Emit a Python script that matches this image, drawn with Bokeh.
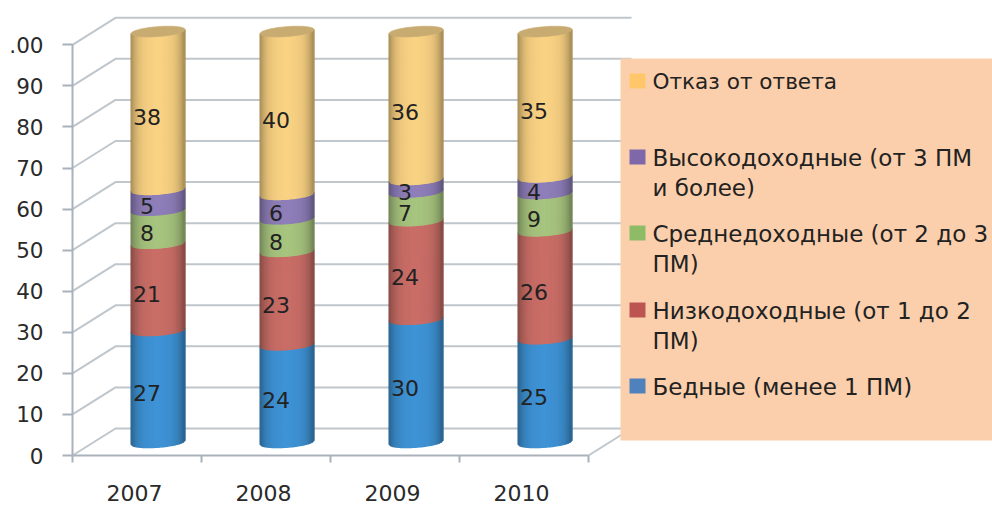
import numpy as np
from bokeh.plotting import figure
from bokeh.models import Range1d, FixedTicker
from bokeh.core.properties import value
from bokeh.embed import file_html
from bokeh.resources import INLINE

# ---- chart values ----
years = ["2007", "2008", "2009", "2010"]
bednye = [27, 24, 30, 25]
nizko = [21, 23, 24, 26]
sredne = [8, 8, 7, 9]
vysoko = [5, 6, 3, 4]
otkaz = [38, 40, 36, 35]
y_ticks = [0, 10, 20, 30, 40, 50, 60, 70, 80, 90, 100]
# the topmost tick label is cut off by the picture's left edge in the reference
y_tick_labels = ["0", "10", "20", "30", "40", "50", "60", "70", "80", "90", ".00"]
legend_entries = [
    ["Отказ от ответа"],
    ["Высокодоходные (от 3 ПМ", "и более)"],
    ["Среднедоходные (от 2 до 3", "ПМ)"],
    ["Низкодоходные (от 1 до 2", "ПМ)"],
    ["Бедные (менее 1 ПМ)"],
]
series_colors = ["#3F95D8", "#CC6F68", "#A9C780", "#9080BC", "#FDD585"]
legend_colors = ["#FFC76A", "#7E68AA", "#8DBB66", "#BC5552", "#4F81BD"]

# ---- geometry (picture pixels) ----
ORG = 0
W, H = 992, 505
X0, Y0 = 72.0, 455.0
PX_CAT, PX_VAL = 129.0, 4.107
FONT = "DejaVu Sans"
DX, DY = 43.0 / PX_CAT, 27.0 / PX_VAL     # full depth of the floor
CYL_DEPTH, LABEL_DEPTH = 0.49, 0.235
RADIUS = 27.0 / PX_CAT
ELL_B, TILT = 5.0 / PX_VAL, 4.0 / PX_VAL


def px(x):
    return (x - X0) / PX_CAT


def py(y):
    return (Y0 - y) / PX_VAL


p = figure(width=W, height=H, output_backend="svg", toolbar_location=None,
           x_range=Range1d(px(ORG), px(ORG + W)),
           y_range=Range1d(py(ORG + H), py(ORG)),
           min_border=0, min_border_left=0, min_border_right=0,
           min_border_top=0, min_border_bottom=0)
p.outline_line_color = None
p.grid.visible = False
p.background_fill_color = "white"

AXIS = "#A9B2BB"
GRID = "#BFC6CC"
ax = p.yaxis[0]
ax.fixed_location = 0
ax.ticker = FixedTicker(ticks=y_ticks)
ax.major_label_overrides = {t: s for t, s in zip(y_ticks, y_tick_labels)}
ax.bounds = (0, 100)
ax.axis_line_color = AXIS
ax.axis_line_width = 2
ax.major_tick_line_color = AXIS
ax.major_tick_line_width = 2
ax.major_tick_in = 0
ax.major_tick_out = 10
ax.minor_tick_line_color = None
ax.major_label_standoff = 19
ax.major_label_text_font = FONT
ax.major_label_text_font_size = "21.5px"
ax.major_label_text_color = "#2A2A2A"

bx = p.xaxis[0]
bx.fixed_location = 0
n = len(years)
major = [i + 0.48 for i in range(n)]
bx.ticker = FixedTicker(ticks=major, minor_ticks=list(range(n + 1)))
bx.major_label_overrides = {t: s for t, s in zip(major, years)}
bx.bounds = (0, n)
bx.axis_line_color = AXIS
bx.axis_line_width = 2
bx.major_tick_line_color = None
bx.minor_tick_line_color = AXIS
bx.minor_tick_line_width = 2
bx.minor_tick_in = 0
bx.minor_tick_out = 7
bx.major_label_standoff = 22
bx.major_label_text_font = FONT
bx.major_label_text_font_size = "22px"
bx.major_label_text_color = "#2A2A2A"

# back wall lines and floor/side diagonals
xs, ys = [], []
for t in y_ticks:
    xs.append([0, DX, n + DX])
    ys.append([t, t + DY, t + DY])
xs.append([n, n + DX])
ys.append([0, DY])
p.multi_line(xs, ys, line_color=GRID, line_width=2)

# cylinders: narrow shaded strips per stacked segment
series = [bednye, nizko, sredne, vysoko, otkaz]
STRIPS = 27
ts = np.linspace(-1, 1, STRIPS + 1)


def shade(hex_color, f):
    r, g, b = [int(hex_color[i:i + 2], 16) for i in (1, 3, 5)]
    return "#%02X%02X%02X" % (int(r * f), int(g * f), int(b * f))


def edge(t, level, cx):
    return cx + RADIUS * t, level + TILT / 2 * t - ELL_B * np.sqrt(np.maximum(0, 1 - t * t))


px_l, py_l, col = [], [], []
lab_x, lab_y, lab_t = [], [], []
for i in range(n):
    cx = i + 0.5 + CYL_DEPTH * DX
    vals = [s[i] for s in series]
    total = sum(vals)
    cum = 0.0
    for k, v in enumerate(vals):
        lo = cum / total * 100
        cum += v
        hi = cum / total * 100
        base_lo = lo + CYL_DEPTH * DY
        base_hi = hi + CYL_DEPTH * DY
        for a, b in zip(ts[:-1], ts[1:]):
            mid = abs((a + b) / 2)
            f = 0.99 - 0.30 * mid ** 4 - 0.05 * mid
            xa, ya = edge(a, base_lo, cx)
            xb, yb = edge(b, base_lo, cx)
            xc, yc = edge(b, base_hi, cx)
            xd, yd = edge(a, base_hi, cx)
            px_l.append([xa, xb, xc, xd])
            py_l.append([ya, yb, yc, yd])
            col.append(shade(series_colors[k], f))
        lab_x.append(i + 0.5 + LABEL_DEPTH * DX)
        lab_y.append((lo + hi) / 2 + LABEL_DEPTH * DY)
        lab_t.append(str(v))
p.patches(px_l, py_l, fill_color=col, line_color=col, line_width=1.2)

# cylinder caps
for i in range(n):
    cx = i + 0.5 + CYL_DEPTH * DX
    th = np.linspace(0, 2 * np.pi, 60)
    level = 100 + CYL_DEPTH * DY
    p.patch(cx + RADIUS * np.cos(th),
            level + TILT / 2 * np.cos(th) + ELL_B * np.sin(th),
            fill_color="#C8AB70", line_color="#C8AB70", line_width=0.6)

p.text(lab_x, lab_y, text=lab_t, text_font=value(FONT), text_font_size=value("22px"),
       text_color="#222222", text_align="center", text_baseline="middle")

# legend panel
p.quad(left=[px(620)], right=[px(992)], top=[py(58)], bottom=[py(440)],
       fill_color="#FBCFAC", line_color=None)
legend_y = [81, 157, 233, 310, 386]
legend_fs = ["21.6px", "23px", "23px", "23px", "23px"]
for entry, color, y, fs in zip(legend_entries, legend_colors, legend_y, legend_fs):
    p.quad(left=[px(629)], right=[px(645)], top=[py(y - 8)], bottom=[py(y + 7)],
           fill_color=color, line_color=None)
    for j, line in enumerate(entry):
        p.text([px(652)], [py(y + j * 30.5)], text=[line], text_font=value(FONT),
               text_font_size=value(fs), text_color="#222222",
               text_align="left", text_baseline="middle")

open("out.html", "w").write(file_html(p, INLINE))
